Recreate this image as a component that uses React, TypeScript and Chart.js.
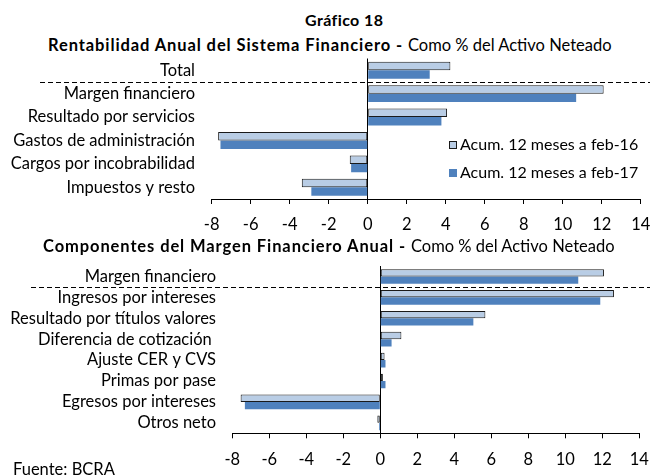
import React, { useEffect, useRef } from "react";
import { Chart, registerables } from "chart.js";

Chart.register(...registerables);

const FONT = "Lato";

const seriesLabels = ["Acum. 12 meses a feb-16", "Acum. 12 meses a feb-17"];

const catsTop = [
  "Total",
  "Margen financiero",
  "Resultado por servicios",
  "Gastos de administración",
  "Cargos por incobrabilidad",
  "Impuestos y resto",
];
const feb16Top = [4.24, 12.1, 4.07, -7.67, -0.92, -3.38];
const feb17Top = [3.18, 10.69, 3.78, -7.55, -0.85, -2.89];

const catsBottom = [
  "Margen financiero",
  "Ingresos por intereses",
  "Resultado por títulos valores",
  "Diferencia de cotización ",
  "Ajuste CER y CVS",
  "Primas por pase",
  "Egresos por intereses",
  "Otros neto",
];
const feb16Bottom = [12.09, 12.63, 5.68, 1.14, 0.23, 0.14, -7.55, -0.16];
const feb17Bottom = [10.7, 11.89, 5.03, 0.61, 0.28, 0.28, -7.32, -0.07];

const xMin = -8;
const xMax = 14;
const xStep = 2;

const LIGHT = "#b9cde5";
const DARK = "#4f81bd";

type Props = {
  cats: string[];
  a: number[];
  b: number[];
  top: number;
  height: number;
  yWidth: number;
  labelPad: number;
  padTop: number;
  padRight: number;
  axisH: number;
  dashX: number;
  catPct: number;
  legend?: { x: number; y1: number; y2: number };
};

function BarChart(p: Props) {
  const ref = useRef<HTMLCanvasElement | null>(null);
  useEffect(() => {
    if (!ref.current) return;
    const dashPlugin = {
      id: "dash",
      afterDatasetsDraw(chart: any) {
        const y = chart.scales.y;
        const yy = Math.round((y.getPixelForValue(0) + y.getPixelForValue(1)) / 2) + 0.5;
        const ctx = chart.ctx;
        ctx.save();
        ctx.strokeStyle = "#000";
        ctx.lineWidth = 1;
        ctx.setLineDash([5, 3]);
        ctx.beginPath();
        ctx.moveTo(p.dashX, yy);
        ctx.lineTo(chart.width, yy);
        ctx.stroke();
        ctx.restore();
      },
    };
    const legendPlugin = {
      id: "customLegend",
      afterDraw(chart: any) {
        if (!p.legend) return;
        const ctx = chart.ctx;
        const L = p.legend;
        ctx.save();
        ctx.font = `16px ${FONT}`;
        ctx.textBaseline = "middle";
        ctx.textAlign = "left";
        const rows = [
          { y: L.y1, fill: LIGHT, stroke: true, text: chart.data.datasets[0].label },
          { y: L.y2, fill: DARK, stroke: false, text: chart.data.datasets[1].label },
        ];
        for (const r of rows) {
          ctx.fillStyle = r.fill;
          ctx.fillRect(L.x, r.y - 4, 8, 8);
          if (r.stroke) {
            ctx.strokeStyle = "#1a1a1a";
            ctx.lineWidth = 1;
            ctx.strokeRect(L.x + 0.5, r.y - 3.5, 7, 7);
          }
          ctx.fillStyle = "#000";
          ctx.fillText(r.text, L.x + 11, r.y);
        }
        ctx.restore();
      },
    };
    const chart = new Chart(ref.current, {
      type: "bar",
      data: {
        labels: p.cats,
        datasets: [
          {
            label: seriesLabels[0],
            data: p.a,
            backgroundColor: LIGHT,
            borderColor: "#1a1a1a",
            borderWidth: 1,
            borderSkipped: false,
            categoryPercentage: p.catPct,
            barPercentage: 1,
          },
          {
            label: seriesLabels[1],
            data: p.b,
            backgroundColor: DARK,
            borderWidth: 0,
            categoryPercentage: p.catPct,
            barPercentage: 1,
          },
        ],
      },
      options: {
        indexAxis: "y",
        animation: false,
        responsive: false,
        maintainAspectRatio: false,
        layout: { padding: { top: p.padTop, right: p.padRight, left: 0, bottom: 0 } },
        plugins: { legend: { display: false }, title: { display: false }, tooltip: { enabled: false } },
        scales: {
          x: {
            type: "linear",
            min: xMin,
            max: xMax,
            ticks: {
              stepSize: xStep,
              color: "#000",
              font: { family: FONT, size: 16.5 },
              padding: 11,
            },
            grid: {
              color: (c: any) => (c.tick && c.tick.value === 0 ? "#000" : "rgba(0,0,0,0)"),
              tickColor: "#000",
              tickLength: 5,
              drawTicks: true,
            },
            border: { display: true, color: "#000" },
            afterFit: (s: any) => {
              s.height = p.axisH;
              s.paddingLeft = 0;
              s.paddingRight = 0;
            },
          },
          y: {
            type: "category",
            ticks: {
              color: "#000",
              font: { family: FONT, size: 16.5 },
              padding: p.labelPad,
              autoSkip: false,
            },
            grid: { display: false, drawTicks: false },
            border: { display: false },
            afterFit: (s: any) => {
              s.width = p.yWidth;
              s.paddingTop = 0;
              s.paddingBottom = 0;
            },
          },
        },
      },
      plugins: [dashPlugin, legendPlugin],
    });
    return () => chart.destroy();
  }, []);
  return (
    <canvas
      ref={ref}
      width={650}
      height={p.height}
      style={{ position: "absolute", left: 0, top: p.top, width: 650, height: p.height }}
    />
  );
}

const txt: React.CSSProperties = {
  position: "absolute",
  fontFamily: FONT,
  color: "#000",
  whiteSpace: "nowrap",
  lineHeight: "1",
};

export default function App() {
  return (
    <div style={{ position: "absolute", left: 0, top: 0, width: 650, height: 475, background: "#fff", overflow: "hidden" }}>
      <div style={{ ...txt, left: 305, top: 12, fontSize: 16, fontWeight: 700, letterSpacing: 0.4 }}>Gráfico 18</div>
      <div style={{ ...txt, left: 48, top: 36.5, fontSize: 16.5 }}>
        <b style={{ letterSpacing: 0.9 }}>Rentabilidad Anual del Sistema Financiero - </b>Como % del Activo Neteado
      </div>
      <BarChart
        cats={catsTop}
        a={feb16Top}
        b={feb17Top}
        top={55}
        height={185}
        yWidth={211.7}
        labelPad={16.7}
        padTop={3.5}
        padRight={9.3}
        axisH={41}
        dashX={40}
        catPct={0.72}
        legend={{ x: 449, y1: 90, y2: 118 }}
      />
      <div style={{ ...txt, left: 43, top: 238, fontSize: 16.5 }}>
        <b style={{ letterSpacing: 0.9 }}>Componentes del Margen Financiero Anual - </b>Como % del Activo Neteado
      </div>
      <BarChart
        cats={catsBottom}
        a={feb16Bottom}
        b={feb17Bottom}
        top={258}
        height={217}
        yWidth={232.3}
        labelPad={16.3}
        padTop={8}
        padRight={10.7}
        axisH={41.7}
        dashX={31}
        catPct={0.7}
      />
      <div style={{ ...txt, left: 13, top: 460.5, fontSize: 16.5 }}>Fuente: BCRA</div>
    </div>
  );
}
